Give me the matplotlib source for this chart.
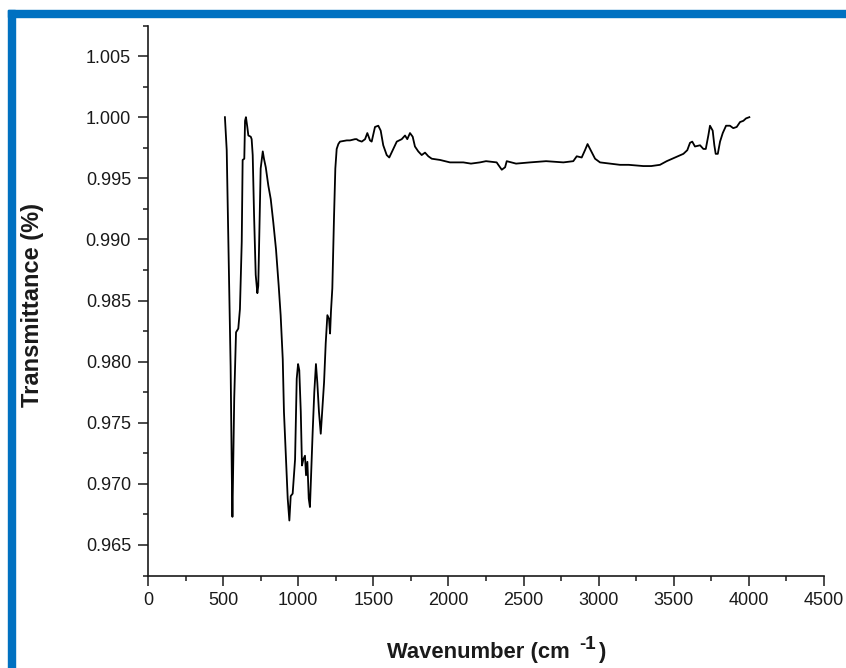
import matplotlib
matplotlib.use("Agg")
import matplotlib.pyplot as plt
from matplotlib.patches import Rectangle
from matplotlib.ticker import MultipleLocator

plt.rcParams['font.family'] = ['Liberation Sans', 'DejaVu Sans']

# FTIR spectrum (wavenumber in cm^-1, transmittance)
wavenumber = [
    512, 524, 534, 550, 559, 562, 574, 586, 601, 612, 624, 630, 641, 646, 652,
    661, 668, 684, 690, 697, 706, 717, 728, 734, 741, 750, 764, 772, 784, 801,
    817, 834, 852, 870, 883, 897, 905, 919, 930, 941, 950, 963, 979, 990, 999,
    1007, 1017, 1025, 1034, 1045, 1052, 1061, 1070, 1078, 1087, 1096, 1107,
    1118, 1127, 1138, 1150, 1158, 1172, 1183, 1194, 1205, 1212, 1218, 1227,
    1238, 1247, 1256, 1267, 1278, 1323, 1345, 1378, 1389, 1400, 1423, 1445,
    1460, 1478, 1489, 1511, 1533, 1549, 1566, 1589, 1606, 1633, 1656, 1689,
    1711, 1726, 1744, 1762, 1777, 1799, 1822, 1844, 1866, 1889, 1944, 2010,
    2099, 2150, 2210, 2250, 2321, 2332, 2355, 2377, 2388, 2450, 2543, 2650,
    2765, 2831, 2854, 2887, 2909, 2926, 2947, 2976, 3009, 3076, 3142, 3200,
    3297, 3350, 3408, 3453, 3508, 3564, 3590, 3608, 3623, 3641, 3675, 3697,
    3713, 3730, 3741, 3759, 3770, 3779, 3793, 3808, 3826, 3848, 3874, 3896,
    3919, 3941, 3963, 3981, 4003,
]
transmittance = [
    1.0000, 0.9973, 0.9903, 0.9796, 0.9696, 0.9673, 0.9770, 0.9824, 0.9827,
    0.9843, 0.9898, 0.9965, 0.9966, 0.9997, 1.0000, 0.9992, 0.9985, 0.9984,
    0.9982, 0.9969, 0.9920, 0.9871, 0.9856, 0.9862, 0.9906, 0.9958, 0.9972,
    0.9966, 0.9959, 0.9944, 0.9933, 0.9914, 0.9892, 0.9862, 0.9838, 0.9802,
    0.9759, 0.9720, 0.9688, 0.9670, 0.9690, 0.9692, 0.9720, 0.9786, 0.9798,
    0.9793, 0.9759, 0.9715, 0.9720, 0.9723, 0.9707, 0.9718, 0.9688, 0.9681,
    0.9712, 0.9742, 0.9775, 0.9798, 0.9783, 0.9759, 0.9741, 0.9756, 0.9783,
    0.9815, 0.9838, 0.9835, 0.9823, 0.9841, 0.9860, 0.9917, 0.9958, 0.9974,
    0.9978, 0.9980, 0.9981, 0.9981, 0.9982, 0.9982, 0.9981, 0.9980, 0.9982,
    0.9987, 0.9981, 0.9980, 0.9992, 0.9993, 0.9989, 0.9977, 0.9969, 0.9967,
    0.9974, 0.9980, 0.9982, 0.9985, 0.9982, 0.9987, 0.9984, 0.9976, 0.9972,
    0.9969, 0.9971, 0.9968, 0.9966, 0.9965, 0.9963, 0.9963, 0.9962, 0.9963,
    0.9964, 0.9963, 0.9961, 0.9957, 0.9959, 0.9964, 0.9962, 0.9963, 0.9964,
    0.9963, 0.9964, 0.9968, 0.9967, 0.9973, 0.9978, 0.9973, 0.9966, 0.9963,
    0.9962, 0.9961, 0.9961, 0.9960, 0.9960, 0.9961, 0.9964, 0.9967, 0.9970,
    0.9973, 0.9979, 0.9980, 0.9976, 0.9977, 0.9974, 0.9974, 0.9985, 0.9993,
    0.9989, 0.9977, 0.9970, 0.9970, 0.9980, 0.9987, 0.9993, 0.9993, 0.9991,
    0.9992, 0.9996, 0.9997, 0.9999, 1.0000,
]

W, H = 846, 668
fig = plt.figure(figsize=(W / 100, H / 100), dpi=100)
ax = fig.add_axes([148 / W, 1 - 575.5 / H, 676 / W, 550 / H])

ink = '#1a1a1a'
ax.plot(wavenumber, transmittance, color='black', linewidth=1.3)

ax.set_xlim(0, 4500)
ax.set_ylim(0.9625, 1.0075)
ax.xaxis.set_major_locator(MultipleLocator(500))
ax.xaxis.set_minor_locator(MultipleLocator(250))
ax.yaxis.set_major_locator(MultipleLocator(0.005))
ax.yaxis.set_minor_locator(MultipleLocator(0.0025))
ax.yaxis.set_major_formatter(plt.FormatStrFormatter('%.3f'))

for side in ('top', 'right'):
    ax.spines[side].set_visible(False)
for side in ('left', 'bottom'):
    ax.spines[side].set_linewidth(1.2)
    ax.spines[side].set_color(ink)

ax.tick_params(which='major', direction='out', length=7.2, width=1.1,
               colors=ink, labelsize=13, pad=5.0)
ax.tick_params(which='minor', direction='out', length=3.5, width=1.1, colors=ink)

fig.text(33 / W, 1 - 305 / H, 'Transmittance (%)', rotation=90,
         ha='center', va='center', fontsize=17, fontweight='bold', color=ink)

# x label in three pieces so the exponent keeps a plain hyphen
fig.text(387 / W, 1 - 658 / H, 'Wavenumber (cm', ha='left', va='baseline',
         fontsize=15.8, fontweight='bold', color=ink)
fig.text(579 / W, 1 - 649 / H, '-1', ha='left', va='baseline',
         fontsize=13.5, fontweight='bold', color=ink)
fig.text(599 / W, 1 - 658 / H, ')', ha='left', va='baseline',
         fontsize=15.8, fontweight='bold', color=ink)

# blue frame along the top and left edges
blue = '#0071C1'
fig.patches.append(Rectangle((8 / W, 1 - 17 / H), 1, 7 / H,
                             transform=fig.transFigure, color=blue, zorder=5))
fig.patches.append(Rectangle((8 / W, 0), 7 / W, 1 - 10 / H,
                             transform=fig.transFigure, color=blue, zorder=5))

fig.savefig('out.png', dpi=100)
